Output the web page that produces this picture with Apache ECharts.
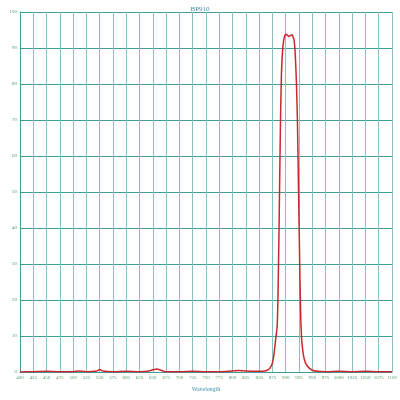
<!DOCTYPE html>
<html><head><meta charset="utf-8">
<script src="https://cdn.jsdelivr.net/npm/echarts@6/dist/echarts.min.js"></script>
<style>html,body{margin:0;padding:0;background:#fff}#c{width:400px;height:400px}</style>
</head><body><div id="c"></div>
<script>
const title = "BP910";
const xName = "Wavelength";
const yName = "Transmission";
const wavelengths = [400,425,450,475,500,510,525,545,550,555,575,600,625,640,650,658,665,675,700,725,750,775,800,812,825,850,860,865,870,875,878,881,884,886,888,890,892,894,896,898,900,903,906,909,912,914,916,918,920,922,924,926,928,930,933,936,940,945,950,960,975,1000,1025,1050,1075,1100];
const transmission = [0,0.1,0.2,0.1,0.1,0.3,0.1,0.3,0.7,0.3,0.1,0.2,0.1,0.2,0.6,0.8,0.5,0.1,0.1,0.2,0.1,0.1,0.3,0.4,0.3,0.2,0.3,0.5,1,2.5,5,9,13,26,46,68,83,89,92,93.3,93.8,93.6,93.2,93.5,93.7,93,92,88,81,70,52,33,17,9,5,3,1.8,1,0.5,0.2,0.1,0.2,0.1,0.2,0.1,0.1];
const xMin = 400, xMax = 1100, xStep = 25;
const yMin = 0, yMax = 100, yStep = 10;

const chart = echarts.init(document.getElementById('c'));
const font = 'Liberation Serif';
chart.setOption({
  animation: false,
  title: { text: title, left: 'center', top: 1, textStyle: { fontSize: 7, fontWeight: 'normal', color: '#3f8fa8', fontFamily: font } },
  grid: { left: 20, right: 8, top: 12, bottom: 28, containLabel: false, outerBoundsMode: 'none' },
  xAxis: {
    type: 'value', min: xMin, max: xMax, interval: xStep,
    name: xName, nameLocation: 'middle', nameGap: 14,
    nameTextStyle: { fontSize: 6, color: '#3f8fa8', fontFamily: font },
    axisLine: { lineStyle: { color: '#3f9c96', width: 1 } },
    axisTick: { show: false },
    axisLabel: { fontSize: 5, color: '#4d9a6a', margin: 3, fontFamily: font, formatter: v => String(v) },
    splitLine: { show: true, lineStyle: { color: '#86c2c0', width: 1 } }
  },
  yAxis: {
    type: 'value', min: yMin, max: yMax, interval: yStep,
    name: yName, nameLocation: 'middle', nameGap: 12,
    nameTextStyle: { fontSize: 5, color: '#3f8fa8', fontFamily: font },
    axisLine: { show: true, lineStyle: { color: '#3f9c96', width: 1 } },
    axisTick: { show: false },
    axisLabel: { fontSize: 5, color: '#4d9a6a', margin: 3, fontFamily: font, formatter: v => String(v) },
    splitLine: { show: true, lineStyle: { color: '#3f9c96', width: 1 } }
  },
  series: [{
    type: 'line', showSymbol: false, smooth: 0.3,
    data: wavelengths.map((w, i) => [w, transmission[i]]),
    lineStyle: { color: '#c8282d', width: 1.5 },
    z: 5
  }]
});
</script></body></html>
